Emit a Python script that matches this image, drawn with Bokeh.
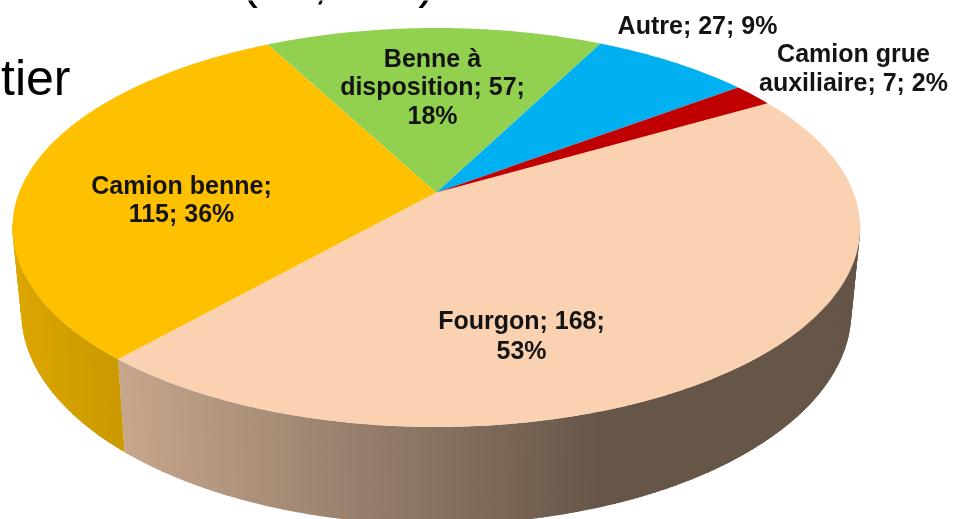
import math
from bokeh.plotting import figure
from bokeh.models import ColumnDataSource, Range1d
from bokeh.core.properties import value
from bokeh.embed import file_html
from bokeh.resources import INLINE

# --- data ---
categories = ["Fourgon", "Camion benne", "Benne à disposition", "Autre", "Camion grue auxiliaire"]
counts = [168, 115, 57, 27, 7]
colors = ["#FAD2B2", "#FFC000", "#92D050", "#00B0F0", "#C00000"]
label_lines = [
    ["Fourgon; 168;", "53%"],
    ["Camion benne;", "115; 36%"],
    ["Benne à", "disposition; 57;", "18%"],
    ["Autre; 27; 9%"],
    ["Camion grue", "auxiliaire; 7; 2%"],
]
# centre x and first-line centre y of each label, with the line pitch
label_pos = [(521, 319, 30), (181, 184, 28), (432, 57, 28.5), (697, 24, 0), (853, 52, 29)]
start_deg = 30.2
W, H = 955, 519

# --- geometry: disc with the perspective of the 3-D pie ---
top = (435.8, 227.0, 423.8, 199.5)
bottom = (435.8, 311.0, 415.0, 213.0)
s = -0.175


def project(theta, ell):
    u, v = math.cos(theta), -math.sin(theta)
    d = 1 + s * v
    a = u * math.sqrt(1 - s * s) / d
    b = (v + s) / d
    return ell[0] + ell[2] * a, ell[1] + ell[3] * b


def shade(col, f):
    r, g, b = (int(col[i:i + 2], 16) for i in (1, 3, 5))
    return "#%02x%02x%02x" % (int(r * f), int(g * f), int(b * f))


def side_factor(x):
    if x < 115:
        return 0.80 + 0.07 * (115 - x) / 100
    if x < 600:
        return 0.80 - 0.39 * (x - 115) / 485
    return 0.41


def hull(points):
    pts = sorted(set(points))

    def half(seq):
        out = []
        for q in seq:
            while len(out) > 1 and ((out[-1][0] - out[-2][0]) * (q[1] - out[-2][1])
                                    - (out[-1][1] - out[-2][1]) * (q[0] - out[-2][0])) <= 0:
                out.pop()
            out.append(q)
        return out[:-1]

    return half(pts) + half(pts[::-1])


total = sum(counts)
edges = [math.radians(start_deg)]
for c in counts:
    edges.append(edges[-1] - 2 * math.pi * c / total)

p = figure(width=W, height=H, output_backend="svg", toolbar_location=None,
           x_range=Range1d(0, W), y_range=Range1d(H, 0), min_border=0,
           outline_line_color=None, background_fill_color="white", border_fill_color="white")
p.axis.visible = False
p.grid.visible = False
p.styles = {"position": "fixed", "left": "0px", "top": "0px"}

# --- side wall, as thin overlapping strips, dark to the right ---
xs, ys, cs = [], [], []
right_pts, left_pts = [], []
step = math.radians(0.6)
for i, c in enumerate(counts):
    a0, a1 = edges[i], edges[i + 1]
    n = max(1, int(abs(a1 - a0) / step))
    d = (a1 - a0) / n
    for k in range(n):
        t0 = a0 + d * k
        t1 = t0 + d
        if math.sin((t0 + t1) / 2) > -0.16:
            continue
        te = t1 + 0.6 * d if k < n - 1 else t1
        pts = [project(t0, top), project(te, top), project(te, bottom), project(t0, bottom)]
        xm = sum(q[0] for q in pts) / 4
        xs.append([q[0] for q in pts])
        ys.append([q[1] for q in pts])
        cs.append(shade(colors[i], side_factor(xm)))
        if xm > 800:
            right_pts += pts
        if xm < 40:
            left_pts += pts

# smooth outer flanks under the strips
under = [(hull(right_pts), shade(colors[0], side_factor(860))),
         (hull(left_pts), shade(colors[1], side_factor(25)))]
p.patches("x", "y", source=ColumnDataSource(dict(
    x=[[q[0] for q in h] for h, _ in under],
    y=[[q[1] for q in h] for h, _ in under],
    c=[col for _, col in under])), fill_color="c", line_color=None)
p.patches("x", "y", source=ColumnDataSource(dict(x=xs, y=ys, c=cs)), fill_color="c", line_color=None)

# --- top face ---
cx, cy = top[0], top[1] + top[3] * s
fx, fy, fc = [], [], []
for i, c in enumerate(counts):
    a0, a1 = edges[i], edges[i + 1]
    n = max(4, int(abs(a1 - a0) / math.radians(0.5)))
    ring = [project(a0 + (a1 - a0) * k / n, top) for k in range(n + 1)]
    fx.append([cx] + [q[0] for q in ring])
    fy.append([cy] + [q[1] for q in ring])
    fc.append(colors[i])
p.patches("x", "y", source=ColumnDataSource(dict(x=fx, y=fy, c=fc)),
          fill_color="c", line_color=None)

# --- labels ---
tx, ty, tt = [], [], []
for lines, (lx, ly, pitch) in zip(label_lines, label_pos):
    for j, line in enumerate(lines):
        tx.append(lx)
        ty.append(ly + j * pitch)
        tt.append(line)
p.text(x="x", y="y", text="t", source=ColumnDataSource(dict(x=tx, y=ty, t=tt)),
       text_font=value("Liberation Sans"), text_font_style="bold", text_font_size="25px",
       text_color="#141414", text_align="center", text_baseline="middle")

# --- cropped slide text behind the chart ---
p.text(x=[70], y=[77], text=["tier"], text_font=value("Liberation Sans"), text_font_size="50px",
       text_color="#000000", text_align="right", text_baseline="alphabetic")
p.text(x=[249, 320, 426], y=[-20, -20, -20], text=["(", ",", ")"], text_font=value("Liberation Sans"),
       text_font_size="50px", text_color="#000000", text_align="center", text_baseline="alphabetic")

open("out.html", "w").write(file_html(p, INLINE))
